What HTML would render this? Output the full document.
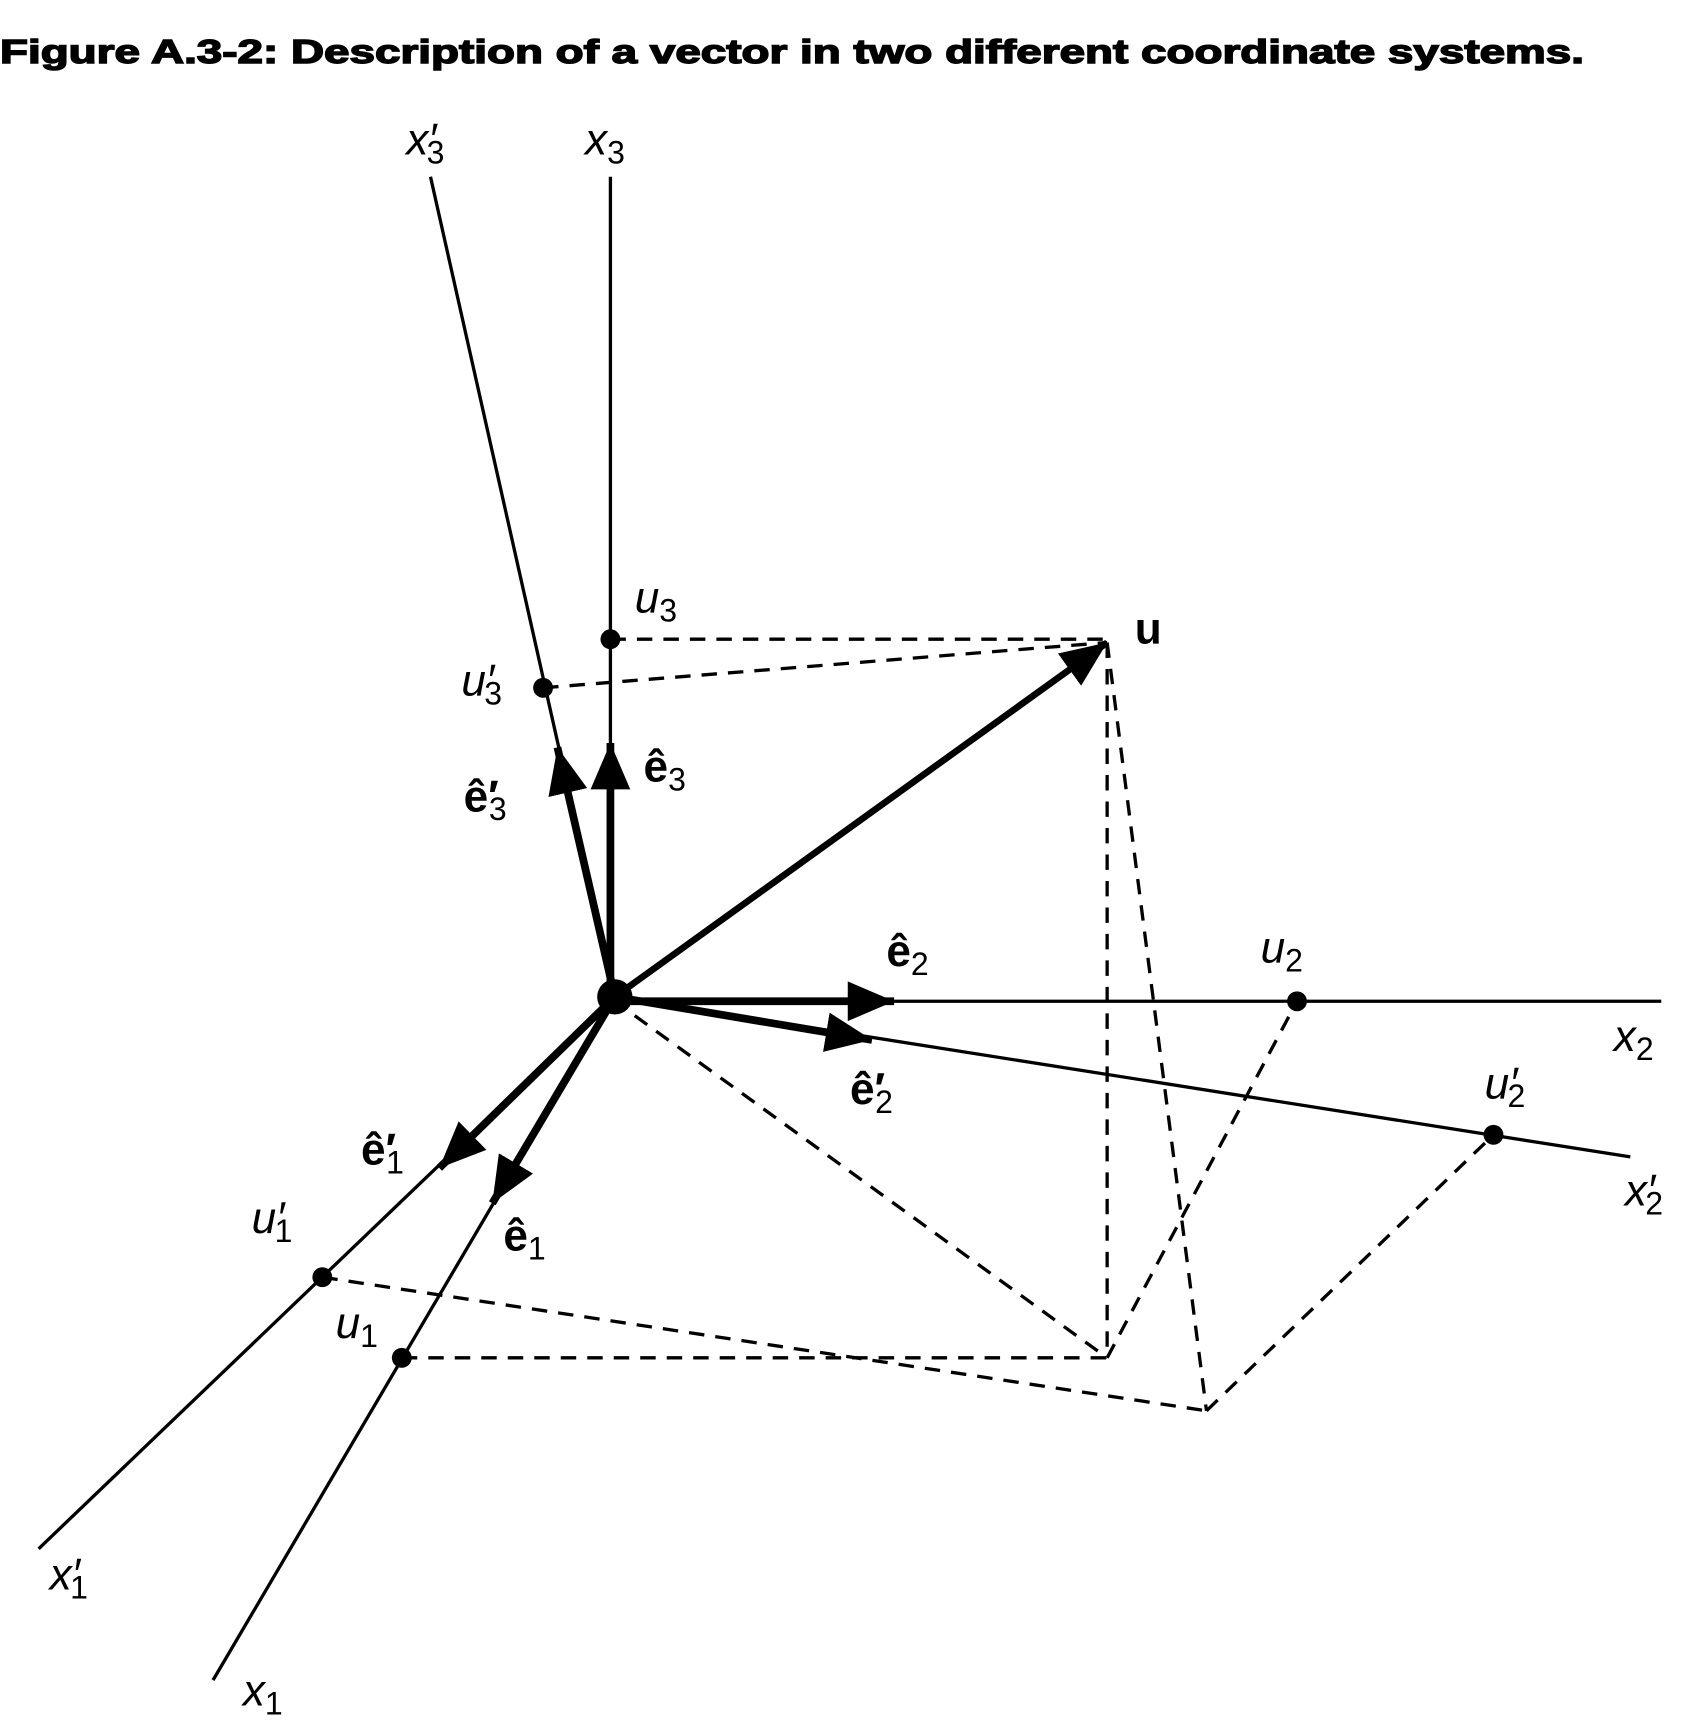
<!DOCTYPE html>
<html><head><meta charset="utf-8"><style>
html,body{margin:0;padding:0;background:#fff;}
svg{display:block;}
text{font-family:"Liberation Sans",sans-serif;fill:#000;}
.it{font-style:italic;font-size:40px;}
.b{font-weight:bold;font-size:40px;}
.s{font-size:29px;font-style:normal;font-weight:normal;}
</style></head><body>
<svg width="1701" height="1731" viewBox="0 0 1541 1568" xmlns="http://www.w3.org/2000/svg">
<defs>
<marker id="ah" markerUnits="userSpaceOnUse" markerWidth="50" markerHeight="40" refX="42" refY="18" orient="auto">
<path d="M0,0 L42,18 L0,36 Z" fill="#000"/>
</marker>
</defs>
<text x="0" y="57" style="font-weight:900;font-size:30px;stroke:#000;stroke-width:1.3px;" textLength="1435" lengthAdjust="spacingAndGlyphs">Figure A.3-2: Description of a vector in two different coordinate systems.</text>
<g stroke="#000" stroke-width="3" fill="none">
<line x1="553" y1="160" x2="553" y2="903"/>
<line x1="390" y1="160" x2="557" y2="903"/>
<line x1="557" y1="907" x2="1505" y2="907"/>
<line x1="557" y1="903" x2="1477" y2="1048"/>
<line x1="557" y1="903" x2="193" y2="1522"/>
<line x1="557" y1="903" x2="35" y2="1403"/>
</g>
<g stroke="#000" stroke-width="3" fill="none" stroke-dasharray="14 10">
<line x1="553" y1="579" x2="1003" y2="579"/>
<line x1="492" y1="623" x2="1003" y2="582"/>
<line x1="1003" y1="582" x2="1003" y2="1230"/>
<line x1="1003" y1="582" x2="1093" y2="1278"/>
<line x1="575" y1="920" x2="1003" y2="1230"/>
<line x1="1003" y1="1230" x2="1175" y2="907"/>
<line x1="1093" y1="1278" x2="1353" y2="1028"/>
<line x1="364" y1="1230" x2="1003" y2="1230"/>
<line x1="292" y1="1157" x2="1093" y2="1278"/>
</g>
<g stroke="#000" stroke-width="7" fill="none" marker-end="url(#ah)">
<line x1="557" y1="903" x2="1003" y2="582" stroke-width="6"/>
<line x1="553" y1="903" x2="553" y2="673"/>
<line x1="557" y1="903" x2="505" y2="677"/>
<line x1="557" y1="907" x2="810" y2="907"/>
<line x1="557" y1="903" x2="790" y2="942"/>
<line x1="557" y1="903" x2="446" y2="1090"/>
<line x1="557" y1="903" x2="398" y2="1058"/>
</g>
<g fill="#000">
<circle cx="557" cy="903" r="16"/>
<circle cx="553" cy="579" r="9"/>
<circle cx="492" cy="623" r="9"/>
<circle cx="1175" cy="907" r="9"/>
<circle cx="1353" cy="1028" r="9"/>
<circle cx="364" cy="1230" r="9"/>
<circle cx="292" cy="1157" r="9"/>
</g>
<text class="it" x="368" y="140">x′<tspan class="s" dx="-9" dy="8">3</tspan></text>
<text class="it" x="530" y="140">x<tspan class="s" dy="8">3</tspan></text>
<text class="it" x="1462" y="952">x<tspan class="s" dy="8">2</tspan></text>
<text class="it" x="1472" y="1092">x′<tspan class="s" dx="-9" dy="8">2</tspan></text>
<text class="it" x="220" y="1545">x<tspan class="s" dy="8">1</tspan></text>
<text class="it" x="45" y="1440">x′<tspan class="s" dx="-9" dy="8">1</tspan></text>
<text class="it" x="575" y="555">u<tspan class="s" dy="8">3</tspan></text>
<text class="it" x="418" y="630">u′<tspan class="s" dx="-9" dy="8">3</tspan></text>
<text class="it" x="1142" y="872">u<tspan class="s" dy="8">2</tspan></text>
<text class="it" x="1345" y="995">u′<tspan class="s" dx="-9" dy="8">2</tspan></text>
<text class="it" x="304" y="1212">u<tspan class="s" dy="8">1</tspan></text>
<text class="it" x="228" y="1117">u′<tspan class="s" dx="-9" dy="8">1</tspan></text>
<text class="b" x="1028" y="583">u</text>
<text class="b" x="583" y="708">ê<tspan class="s" dy="8">3</tspan></text>
<text class="b" x="420" y="735">ê′<tspan class="s" dx="-9" dy="8">3</tspan></text>
<text class="b" x="803" y="875">ê<tspan class="s" dy="8">2</tspan></text>
<text class="b" x="770" y="1000">ê′<tspan class="s" dx="-9" dy="8">2</tspan></text>
<text class="b" x="456" y="1133">ê<tspan class="s" dy="8">1</tspan></text>
<text class="b" x="327" y="1055">ê′<tspan class="s" dx="-9" dy="8">1</tspan></text>
</svg>
</body></html>
